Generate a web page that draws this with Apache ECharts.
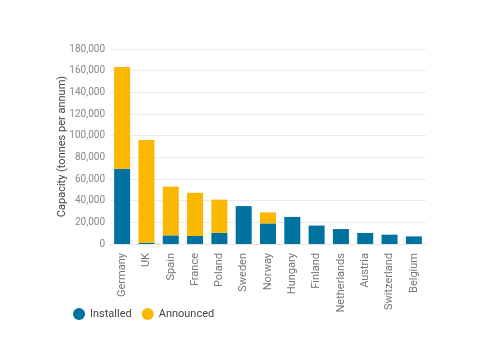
<!DOCTYPE html>
<html><head><meta charset="utf-8">
<script src="https://cdn.jsdelivr.net/npm/echarts@6/dist/echarts.min.js"></script>
<style>html,body{margin:0;padding:0;background:#fff}#c{width:485px;height:360px}</style>
</head><body><div id="c"></div>
<script>
var categories = ['Germany','UK','Spain','France','Poland','Sweden','Norway','Hungary','Finland','Netherlands','Austria','Switzerland','Belgium'];
var installed = [69500, 1200, 8000, 7400, 10400, 35000, 19000, 25000, 17000, 13800, 10200, 8600, 7000];
var announced = [93900, 94800, 45000, 39900, 30500, 0, 10200, 0, 0, 0, 0, 0, 0];
var yTicks = {min: 0, max: 180000, interval: 20000};

var chart = echarts.init(document.getElementById('c'), null, {renderer: 'canvas'});
var font = 'Roboto, "Noto Sans", sans-serif';
chart.setOption({
  animation: false,
  textStyle: {fontFamily: font},
  grid: {left: 110, right: 59, top: 49, bottom: 116},
  legend: {
    left: 68, top: 303, itemWidth: 12, itemHeight: 12, itemGap: 10, icon: 'circle',
    textStyle: {fontSize: 11, color: '#444', fontFamily: font},
    data: ['Installed', 'Announced']
  },
  xAxis: {
    type: 'category', data: categories,
    axisLine: {show: true, lineStyle: {color: '#e3e3e3'}},
    axisTick: {show: false},
    axisLabel: {rotate: 90, color: '#777', fontSize: 11, margin: 9, interval: 0}
  },
  yAxis: {
    type: 'value', min: yTicks.min, max: yTicks.max, interval: yTicks.interval,
    name: 'Capacity (tonnes per annum)', nameLocation: 'middle', nameGap: 42,
    nameMoveOverlap: false,
    nameTextStyle: {color: '#444', fontSize: 11},
    axisLine: {show: false}, axisTick: {show: false},
    axisLabel: {color: '#888', fontSize: 10, margin: 5,
      formatter: function(v){ return v.toLocaleString('en-US'); }},
    splitLine: {lineStyle: {color: '#ebebeb'}}
  },
  series: [
    {name: 'Installed', type: 'bar', stack: 's', data: installed, barWidth: 16,
      itemStyle: {color: '#00729f'}},
    {name: 'Announced', type: 'bar', stack: 's', data: announced, barWidth: 16,
      itemStyle: {color: '#fbb800'}}
  ]
});
</script></body></html>
